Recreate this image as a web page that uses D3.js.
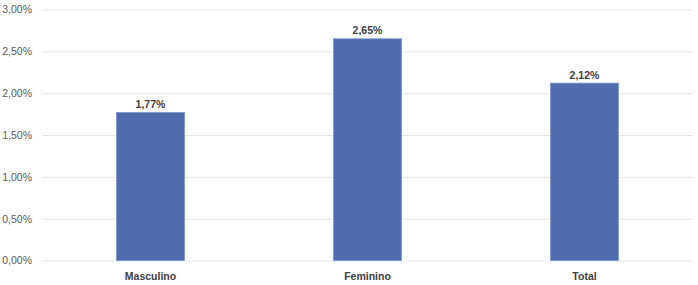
<!DOCTYPE html>
<html>
<head>
<meta charset="utf-8">
<script src="https://d3js.org/d3.v7.min.js"></script>
<style>
  body { margin: 0; background: #fff; }
  svg { display: block; font-family: "Liberation Sans", "DejaVu Sans", sans-serif; }
</style>
</head>
<body>
<script>
// dados
var categorias = ["Masculino", "Feminino", "Total"];
var valores = [1.77, 2.65, 2.12];
var ticksY = [0, 0.5, 1, 1.5, 2, 2.5, 3];

var w = 698, h = 285;
var margin = { left: 42, right: 5, top: 9.5, bottom: 24.5 };

var svg = d3.select("body").append("svg")
  .attr("width", w)
  .attr("height", h);

var x = d3.scaleBand()
  .domain(categorias)
  .range([margin.left, w - margin.right])
  .paddingInner(0.686)
  .paddingOuter(0.343);

var y = d3.scaleLinear()
  .domain([0, 3])
  .range([h - margin.bottom, margin.top]);

var fmt = function (v) { return v.toFixed(2).replace(".", ",") + "%"; };

// grade
var yAxis = d3.axisLeft(y)
  .tickValues(ticksY)
  .tickSize(-(w - margin.left - margin.right))
  .tickPadding(10)
  .tickFormat(fmt);

var gy = svg.append("g")
  .attr("transform", "translate(" + margin.left + ",0)")
  .call(yAxis);
gy.select(".domain").remove();
gy.selectAll(".tick line").attr("stroke", "#e6e6e6").attr("stroke-width", 1);
gy.selectAll(".tick text")
  .attr("fill", "#595959")
  .style("font-size", "10.5px");

// barras
svg.append("g").selectAll("rect")
  .data(valores)
  .enter()
  .append("rect")
  .attr("x", function (d, i) { return x(categorias[i]); })
  .attr("y", function (d) { return y(d); })
  .attr("width", x.bandwidth())
  .attr("height", function (d) { return y(0) - y(d); })
  .attr("fill", "#4f6caf")
  .attr("stroke", "#7d98cf")
  .attr("stroke-width", 0.8);

// rotulos
svg.append("g").selectAll("text")
  .data(valores)
  .enter()
  .append("text")
  .attr("x", function (d, i) { return x(categorias[i]) + x.bandwidth() / 2; })
  .attr("y", function (d) { return y(d) - 4.5; })
  .attr("text-anchor", "middle")
  .attr("fill", "#404040")
  .style("font-size", "10.5px")
  .style("font-weight", "bold")
  .text(fmt);

// eixo x
var xAxis = d3.axisBottom(x).tickSize(0).tickPadding(12);
var gx = svg.append("g")
  .attr("transform", "translate(0," + (h - margin.bottom) + ")")
  .call(xAxis);
gx.select(".domain").remove();
gx.selectAll(".tick text")
  .attr("fill", "#404040")
  .style("font-size", "10.5px")
  .style("font-weight", "bold");
</script>
</body>
</html>
